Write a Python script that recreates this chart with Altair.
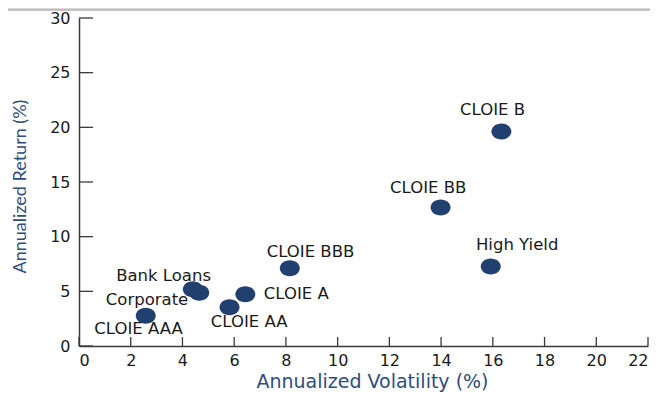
import altair as alt
import pandas as pd

# Data
names = ["CLOIE B", "CLOIE BB", "High Yield", "CLOIE BBB", "CLOIE A",
         "CLOIE AA", "Bank Loans", "Corporate", "CLOIE AAA"]
volatility = [16.33, 13.98, 15.92, 8.15, 6.43, 5.82, 4.40, 4.65, 2.58]
ret = [19.62, 12.66, 7.26, 7.12, 4.73, 3.54, 5.19, 4.88, 2.77]
# label anchor points (data units)
label_x = [15.99, 13.50, 16.94, 8.95, 8.40, 6.58, 3.27, 2.63, 2.30]
label_y = [21.15, 14.01, 8.79, 8.15, 4.30, 1.74, 5.95, 3.75, 1.10]

x_ticks = [0, 2, 4, 6, 8, 10, 12, 14, 16, 18, 20, 22]
y_ticks = [0, 5, 10, 15, 20, 25, 30]

df = pd.DataFrame({"name": names, "vol": volatility, "ret": ret,
                   "lx": label_x, "ly": label_y})
xt = pd.DataFrame({"t": x_ticks})
yt = pd.DataFrame({"t": y_ticks})

W, H = 569, 328
NAVY = "#213f6f"
TITLE_BLUE = "#2f4c7e"
FONT = "DejaVu Sans"

xscale = alt.Scale(domain=[0, 22], nice=False, zero=False)
yscale = alt.Scale(domain=[0, 30], nice=False, zero=False)

xaxis = alt.Axis(values=x_ticks, title="Annualized Volatility (%)", grid=False,
                 ticks=False, domain=True, domainColor="#3a3a3a", domainWidth=1.5,
                 labelFont=FONT, labelFontSize=16, labelColor="#1a1a1a", labelPadding=6,
                 labelFlush=1, labelFlushOffset=0, labelOverlap=False,
                 titleFont=FONT, titleFontSize=19, titleFontWeight="normal",
                 titleColor=TITLE_BLUE, titleX=293, titleY=41.5, titleBaseline="alphabetic",
                 titleAnchor="start", titleAlign="center")
yaxis = alt.Axis(values=y_ticks, title="Annualized Return (%)", grid=False,
                 ticks=False, domain=True, domainColor="#3a3a3a", domainWidth=1.5,
                 labelFont=FONT, labelFontSize=16, labelColor="#1a1a1a", labelPadding=9,
                 labelFlush=False, labelOverlap=False,
                 titleFont="Lato", titleFontSize=18, titleFontWeight="normal",
                 titleColor=TITLE_BLUE, titleX=-59, titleY=168, titleAngle=-90,
                 titleBaseline="middle", titleAlign="center", titleAnchor="start")

ellipse = "M -1 0 A 1 0.8 0 1 0 1 0 A 1 0.8 0 1 0 -1 0 Z"

points = alt.Chart(df).mark_point(shape=ellipse, filled=True, opacity=1,
                                  color=NAVY, size=400).encode(
    x=alt.X("vol:Q", scale=xscale, axis=xaxis),
    y=alt.Y("ret:Q", scale=yscale, axis=yaxis),
)

labels = alt.Chart(df).mark_text(font=FONT, fontSize=16.5, color="#1a1a1a",
                                 align="center", baseline="alphabetic").encode(
    x=alt.X("lx:Q", scale=xscale),
    y=alt.Y("ly:Q", scale=yscale),
    text="name:N",
)

xtick_marks = alt.Chart(xt).mark_rule(color="#3a3a3a", strokeWidth=1.3).encode(
    x=alt.X("t:Q", scale=xscale),
    y=alt.value(H), y2=alt.value(H - 9),
)
ytick_marks = alt.Chart(yt).mark_rule(color="#3a3a3a", strokeWidth=1.3).encode(
    y=alt.Y("t:Q", scale=yscale),
    x=alt.value(0), x2=alt.value(14),
)

band = alt.Chart(pd.DataFrame({"a": [0]})).mark_rect(color="#d9d9d9").encode(
    x=alt.value(-71), x2=alt.value(W + 2),
    y=alt.value(-10), y2=alt.value(-8.5),
)
band_line = alt.Chart(pd.DataFrame({"a": [0]})).mark_rule(color="#8c8c8c", strokeWidth=1.2).encode(
    x=alt.value(-71), x2=alt.value(W + 2),
    y=alt.value(-8),
)

chart = alt.layer(band, band_line, xtick_marks, ytick_marks, points, labels).properties(
    width=W, height=H,
    autosize=alt.AutoSizeParams(type="none"),
    padding={"left": 71, "top": 10, "right": 2, "bottom": 46},
).configure_view(stroke=None)

chart.save("out.html", embed_options={"renderer": "svg", "actions": False})
